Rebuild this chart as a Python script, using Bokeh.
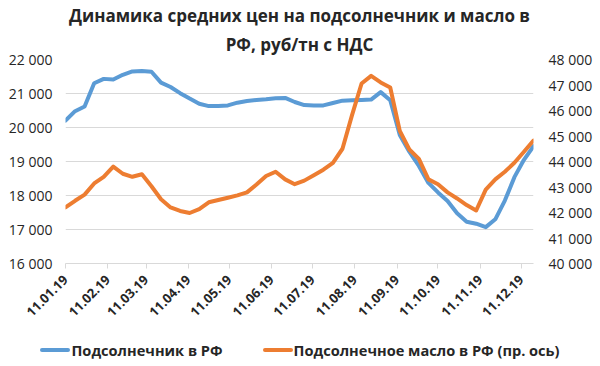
import pandas as pd
from bokeh.plotting import figure
from bokeh.layouts import column
from bokeh.models import (Range1d, LinearAxis, FixedTicker, Title, Div)
from bokeh.embed import file_html
from bokeh.resources import INLINE
import math

# ---------------- data ----------------
dates = pd.date_range("2019-01-11", periods=50, freq="7D")

sunflower = [20200, 20480, 20620, 21300, 21430, 21410, 21550, 21650, 21660, 21640,
             21320, 21190, 21010, 20850, 20700, 20630, 20630, 20650, 20730, 20780,
             20810, 20830, 20860, 20870, 20750, 20660, 20650, 20650, 20720, 20790,
             20800, 20810, 20820, 21040, 20800, 19780, 19290, 18870, 18370, 18090,
             17840, 17480, 17230, 17170, 17070, 17300, 17850, 18540, 19050, 19450]

oil = [42200, 42460, 42700, 43140, 43400, 43800, 43520, 43400, 43500, 43030,
       42520, 42200, 42060, 41980, 42130, 42400, 42490, 42580, 42670, 42790,
       43100, 43430, 43600, 43300, 43110, 43250, 43460, 43680, 43950, 44500,
       45820, 47060, 47360, 47100, 46900, 45200, 44470, 44100, 43300, 43110,
       42790, 42550, 42290, 42080, 42900, 43300, 43600, 43950, 44380, 44820]

x_tick_dates = ["2019-01-11", "2019-02-11", "2019-03-11", "2019-04-11", "2019-05-11",
                "2019-06-11", "2019-07-11", "2019-08-11", "2019-09-11", "2019-10-11",
                "2019-11-11", "2019-12-11"]
x_tick_labels = ["11.01.19", "11.02.19", "11.03.19", "11.04.19", "11.05.19", "11.06.19",
                 "11.07.19", "11.08.19", "11.09.19", "11.10.19", "11.11.19", "11.12.19"]

left_ticks = [16000, 17000, 18000, 19000, 20000, 21000, 22000]
left_labels = ["16 000", "17 000", "18 000", "19 000", "20 000", "21 000", "22 000"]
right_ticks = [40000, 41000, 42000, 43000, 44000, 45000, 46000, 47000, 48000]
right_labels = ["40 000", "41 000", "42 000", "43 000", "44 000", "45 000", "46 000",
                "47 000", "48 000"]

title_lines = ["Динамика средних цен на подсолнечник и масло в", "РФ, руб/тн с НДС"]
series_names = ["Подсолнечник в РФ", "Подсолнечное масло в РФ (пр. ось)"]

BLUE = "#5B9BD5"
ORANGE = "#ED7D31"
FONT = "Open Sans"
TXT = "#262626"

# ---------------- main figure ----------------
p = figure(width=600, height=334, x_axis_type="datetime",
           x_range=Range1d(dates[0], dates[-1]),
           y_range=Range1d(left_ticks[0], left_ticks[-1]),
           output_backend="svg", toolbar_location=None,
           min_border_left=65, min_border_right=67, min_border_top=59,
           min_border_bottom=71)
p.extra_y_ranges = {"oil": Range1d(right_ticks[0], right_ticks[-1])}
p.outline_line_color = None
p.background_fill_color = "white"
p.border_fill_color = "white"
p.title.text = title_lines[0]
p.title.align = "center"
p.title.text_font = FONT
p.title.text_font_size = "17px"
p.title.text_font_style = "bold"
p.title.text_color = TXT
p.title.standoff = 2

# second title line (closer to the plot)
p.add_layout(Title(text=title_lines[1], align="center", text_font=FONT,
                   text_font_size="17px", text_font_style="bold",
                   text_color=TXT, standoff=7), "above")

# lines
r1 = p.line(dates, sunflower, line_color=BLUE, line_width=4, line_join="round",
            line_cap="round")
r2 = p.line(dates, oil, line_color=ORANGE, line_width=4, line_join="round",
            line_cap="round", y_range_name="oil")

# x axis
tick_ms = [pd.Timestamp(d).value / 1e6 for d in x_tick_dates]
xa = p.xaxis[0]
xa.ticker = FixedTicker(ticks=tick_ms)
xa.major_label_overrides = {t: l for t, l in zip(tick_ms, x_tick_labels)}
xa.major_label_orientation = math.pi / 4
xa.axis_line_color = "#d9d9d9"
xa.major_tick_line_color = "#d9d9d9"
xa.major_tick_out = 5
xa.major_tick_in = 0
xa.minor_tick_out = 0
xa.minor_tick_in = 0
xa.minor_tick_line_color = None
xa.major_label_text_font = FONT
xa.major_label_text_font_size = "13px"
xa.major_label_text_font_style = "bold"
xa.major_label_text_color = TXT
xa.major_label_standoff = 9

# left axis
ya = p.yaxis[0]
ya.ticker = FixedTicker(ticks=left_ticks)
ya.major_label_overrides = {t: l for t, l in zip(left_ticks, left_labels)}
ya.axis_line_color = None
ya.major_tick_line_color = None
ya.minor_tick_line_color = None
ya.major_tick_out = 0
ya.major_tick_in = 0
ya.minor_tick_out = 0
ya.minor_tick_in = 0
ya.major_label_text_font = FONT
ya.major_label_text_font_size = "14px"
ya.major_label_text_color = TXT
ya.major_label_standoff = 13

# right axis
ra = LinearAxis(y_range_name="oil", ticker=FixedTicker(ticks=right_ticks))
ra.major_label_overrides = {t: l for t, l in zip(right_ticks, right_labels)}
ra.axis_line_color = None
ra.major_tick_line_color = None
ra.minor_tick_line_color = None
ra.major_tick_out = 0
ra.major_tick_in = 0
ra.minor_tick_out = 0
ra.minor_tick_in = 0
ra.major_label_text_font = FONT
ra.major_label_text_font_size = "14px"
ra.major_label_text_color = TXT
ra.major_label_standoff = 15
p.add_layout(ra, "right")

# grid
p.xgrid.grid_line_color = None
p.ygrid.grid_line_color = "#d9d9d9"
p.ygrid.ticker = FixedTicker(ticks=left_ticks)

# ---------------- legend strip ----------------
def swatch(color):
    return ('<span style="display:inline-block;width:30px;height:4px;'
            f'background:{color};border-radius:2px;vertical-align:middle;'
            'margin-right:1px"></span>')

legend_html = (
    f'<div style="width:600px;text-align:center;white-space:nowrap;'
    f'font-family:\'{FONT}\';font-size:14.6px;font-weight:bold;color:{TXT};'
    'line-height:28px">'
    f'{swatch(BLUE)}<span style="vertical-align:middle">{series_names[0]}</span>'
    '<span style="display:inline-block;width:40px"></span>'
    f'{swatch(ORANGE)}<span style="vertical-align:middle">{series_names[1]}</span>'
    '</div>')
legend_div = Div(text=legend_html, width=600, height=32, margin=0)

layout = column(p, legend_div, spacing=0)
open("out.html", "w").write(file_html(layout, INLINE))
